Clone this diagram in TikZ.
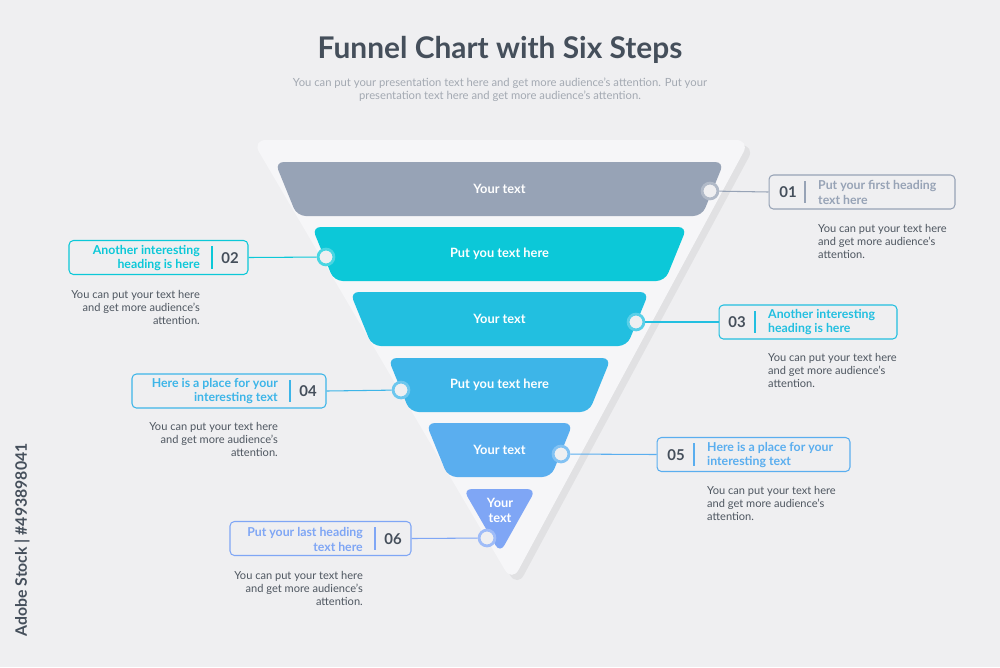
\documentclass[tikz,border=0pt]{standalone}
\usepackage{fontspec}
\setmainfont{Lato}
\usetikzlibrary{calc,shadows}

\definecolor{bgcol}{HTML}{EFEFF1}
\definecolor{funbg}{HTML}{F6F6F8}
\definecolor{titlecol}{HTML}{454F5B}
\definecolor{subcol}{HTML}{A3A9B2}
\definecolor{bodycol}{HTML}{4E5660}
\definecolor{cA}{HTML}{97A3B6}
\definecolor{cB}{HTML}{0CC8D8}
\definecolor{cC}{HTML}{22BFE0}
\definecolor{cD}{HTML}{3DB5E8}
\definecolor{cE}{HTML}{5AAEEF}
\definecolor{cF}{HTML}{7FA6F5}

\tikzset{
  bartext/.style={text=white, font=\fontsize{7.3}{8.6}\selectfont\bfseries, align=center},
  dot/.style={circle, draw=#1!75, line width=1.6pt, fill=bgcol, minimum size=9pt, inner sep=0pt},
  labelbox/.style={draw=#1, rounded corners=2.5pt, line width=0.6pt, minimum height=0.68cm},
  numtext/.style={text=titlecol, font=\fontsize{8.5}{10}\selectfont\bfseries},
  headtext/.style={text=#1, font=\fontsize{7}{8.5}\selectfont\bfseries},
  desctext/.style={text=bodycol, font=\fontsize{6.3}{7.5}\selectfont},
  link/.style={draw=#1, line width=0.6pt}
}

\begin{document}
\begin{tikzpicture}[x=0.02cm, y=-0.02cm]

  % Background
  \fill[bgcol] (0,0) rectangle (1000,667);
  \useasboundingbox (0,0) rectangle (1000,667);

  % Watermark on the side
  \node[rotate=90, text=titlecol, font=\fontsize{9}{10}\selectfont\bfseries] at (22,540) {Adobe Stock | \#493898041};

  % Title
  \node[text=titlecol, font=\fontsize{17}{20}\selectfont\bfseries] (title) at (500,50) {Funnel Chart with Six Steps};
  \node[text=subcol, font=\fontsize{6.4}{7.5}\selectfont, align=center] (subtitle) at (500,90)
    {You can put your presentation text here and get more audience's attention. Put your\\
     presentation text here and get more audience's attention.};

  % Funnel backdrop
  \fill[funbg, rounded corners=8pt, drop shadow={shadow xshift=3pt, shadow yshift=-3pt, opacity=0.12}]
    (252,140) -- (750,140) -- (512,582) -- cycle;

  % Funnel bars: top y / left x / right x / colour / text
  \foreach \yt/\xl/\xr/\col/\txt [count=\i] in {
      162/275/724/cA/{Your text},
      227/312/687/cB/{Put you text here},
      292/350/649/cC/{Your text},
      358/388/611/cD/{Put you text here},
      423/426/573/cE/{Your text}} {
    \fill[\col, rounded corners=5pt]
      (\xl,\yt) -- (\xr,\yt) -- (\xr-22,\yt+54) -- (\xl+22,\yt+54) -- cycle;
    \node[bartext] (bar\i) at ({(\xl+\xr)/2}, \yt+27) {\txt};
  }
  \fill[cF, rounded corners=5pt] (463,489) -- (536,489) -- (500,553) -- cycle;
  \node[bartext] (bar6) at (500,510) {Your\\text};

  % Dots on the bars
  \node[dot=cA] (d1) at (710,191) {};
  \node[dot=cB] (d2) at (326,257) {};
  \node[dot=cC] (d3) at (636,322) {};
  \node[dot=cD] (d4) at (401,390) {};
  \node[dot=cE] (d5) at (561,454) {};
  \node[dot=cF] (d6) at (487,538) {};

  % Label boxes
  \node[labelbox=cA, minimum width=3.72cm] (b1) at (862,192) {};
  \node[labelbox=cB, minimum width=3.58cm] (b2) at (158.5,257.5) {};
  \node[labelbox=cC, minimum width=3.56cm] (b3) at (808,322) {};
  \node[labelbox=cD, minimum width=3.88cm] (b4) at (229,391) {};
  \node[labelbox=cE, minimum width=3.86cm] (b5) at (753.5,454.5) {};
  \node[labelbox=cF, minimum width=3.62cm] (b6) at (320.5,538.5) {};

  % Connectors
  \draw[link=cA] (d1) -- (b1.west);
  \draw[link=cB] (d2) -- (b2.east);
  \draw[link=cC] (d3) -- (b3.west);
  \draw[link=cD] (d4) -- (b4.east);
  \draw[link=cE] (d5) -- (b5.west);
  \draw[link=cF] (d6) -- (b6.east);

  % Numbers and dividers
  \node[numtext] (n1) at (788,192) {01};
  \draw[cA, line width=0.6pt] (805,181) -- (805,203);
  \node[numtext] (n2) at (230,258) {02};
  \draw[cB, line width=0.6pt] (212,246) -- (212,269);
  \node[numtext] (n3) at (737,322) {03};
  \draw[cC, line width=0.6pt] (755,311) -- (755,333);
  \node[numtext] (n4) at (308,391) {04};
  \draw[cD, line width=0.6pt] (290,380) -- (290,402);
  \node[numtext] (n5) at (676,455) {05};
  \draw[cE, line width=0.6pt] (694,443) -- (694,466);
  \node[numtext] (n6) at (393,539) {06};
  \draw[cF, line width=0.6pt] (375,527) -- (375,550);

  % Headings
  \node[headtext=cA, anchor=west, align=left] (h1) at (812,192) {Put your first heading\\text here};
  \node[headtext=cB, anchor=east, align=right] (h2) at (206,258) {Another interesting\\heading is here};
  \node[headtext=cC, anchor=west, align=left] (h3) at (762,322) {Another interesting\\heading is here};
  \node[headtext=cD, anchor=east, align=right] (h4) at (284,391) {Here is a place for your\\interesting text};
  \node[headtext=cE, anchor=west, align=left] (h5) at (701,455) {Here is a place for your\\interesting text};
  \node[headtext=cF, anchor=east, align=right] (h6) at (369,539) {Put your last heading\\text here};

  % Descriptions
  \node[desctext, anchor=north west, align=left] (t1) at (812,218) {You can put your text here\\and get more audience's\\attention.};
  \node[desctext, anchor=north east, align=right] (t2) at (206,284) {You can put your text here\\and get more audience's\\attention.};
  \node[desctext, anchor=north west, align=left] (t3) at (762,347) {You can put your text here\\and get more audience's\\attention.};
  \node[desctext, anchor=north east, align=right] (t4) at (284,416) {You can put your text here\\and get more audience's\\attention.};
  \node[desctext, anchor=north west, align=left] (t5) at (701,480) {You can put your text here\\and get more audience's\\attention.};
  \node[desctext, anchor=north east, align=right] (t6) at (369,565) {You can put your text here\\and get more audience's\\attention.};

\end{tikzpicture}
\end{document}
